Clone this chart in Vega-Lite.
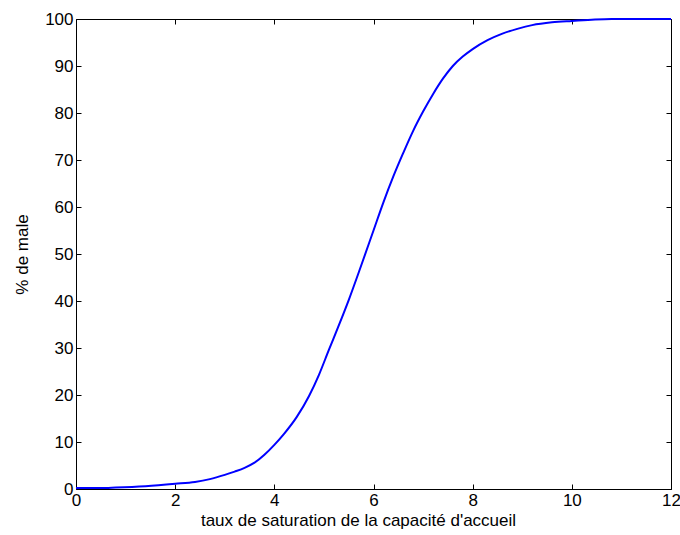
{
  "$schema": "https://vega.github.io/schema/vega-lite/v6.json",
  "autosize": "none",
  "width": 595,
  "height": 470,
  "padding": {"left": 76, "top": 19, "right": 9, "bottom": 46},
  "background": "white",
  "config": {
    "view": {"stroke": "black", "strokeWidth": 1},
    "font": "Liberation Sans",
    "axis": {
      "grid": false,
      "domain": false,
      "tickColor": "black",
      "tickSize": -5,
      "labelColor": "black",
      "labelFontSize": 17,
      "labelFont": "Liberation Sans",
      "labelFlush": false,
      "titleFont": "Liberation Sans",
      "titleFontSize": 17,
      "titleFontWeight": "normal",
      "titleColor": "black"
    }
  },
  "data": {
    "values": [
      {"x": 0, "y": 0.2}, {"x": 0.5, "y": 0.2}, {"x": 0.8, "y": 0.3}, {"x": 1.4, "y": 0.6},
      {"x": 2.0, "y": 1.1}, {"x": 2.4, "y": 1.5}, {"x": 2.7, "y": 2.1}, {"x": 3.0, "y": 3.0},
      {"x": 3.2, "y": 3.7}, {"x": 3.4, "y": 4.5}, {"x": 3.6, "y": 5.6}, {"x": 3.8, "y": 7.3},
      {"x": 4.0, "y": 9.4}, {"x": 4.2, "y": 11.8},
      {"x": 4.45, "y": 15.3}, {"x": 4.7, "y": 19.8}, {"x": 4.9, "y": 24.3}, {"x": 5.1, "y": 29.6},
      {"x": 5.3, "y": 34.8}, {"x": 5.5, "y": 40.2}, {"x": 5.75, "y": 47.5}, {"x": 6.0, "y": 55},
      {"x": 6.2, "y": 61}, {"x": 6.4, "y": 66.5}, {"x": 6.6, "y": 71.5}, {"x": 6.8, "y": 76.2},
      {"x": 7.0, "y": 80.3}, {"x": 7.2, "y": 84.0}, {"x": 7.4, "y": 87.3}, {"x": 7.6, "y": 90.0},
      {"x": 7.8, "y": 92.0}, {"x": 8.0, "y": 93.6}, {"x": 8.3, "y": 95.5}, {"x": 8.6, "y": 96.9},
      {"x": 8.9, "y": 97.9}, {"x": 9.2, "y": 98.7}, {"x": 9.6, "y": 99.3}, {"x": 10.0, "y": 99.6},
      {"x": 10.4, "y": 99.85}, {"x": 10.8, "y": 100}, {"x": 12, "y": 100}
    ]
  },
  "layer": [
    {
      "mark": {"type": "line", "color": "#0000ff", "strokeWidth": 2, "interpolate": "monotone"},
      "encoding": {
        "x": {"field": "x", "type": "quantitative", "scale": {"domain": [0, 12], "nice": false},
          "axis": {"orient": "bottom", "values": [0, 2, 4, 6, 8, 10, 12], "labelPadding": 8, "title": "taux de saturation de la capacité d'accueil", "titlePadding": 4, "titleX": 282, "titleAlign": "center"}},
        "y": {"field": "y", "type": "quantitative", "scale": {"domain": [0, 100], "nice": false},
          "axis": {"orient": "left", "values": [0, 10, 20, 30, 40, 50, 60, 70, 80, 90, 100], "labelPadding": 8, "title": "% de male", "titlePadding": 13}}
      }
    },
    {
      "mark": {"type": "line", "opacity": 0},
      "encoding": {
        "x": {"field": "x", "type": "quantitative", "scale": {"domain": [0, 12], "nice": false},
          "axis": {"orient": "top", "values": [0, 2, 4, 6, 8, 10, 12], "labels": false, "title": null}},
        "y": {"field": "y", "type": "quantitative", "scale": {"domain": [0, 100], "nice": false},
          "axis": {"orient": "right", "values": [0, 10, 20, 30, 40, 50, 60, 70, 80, 90, 100], "labels": false, "title": null}}
      }
    }
  ],
  "resolve": {"axis": {"x": "independent", "y": "independent"}}
}
